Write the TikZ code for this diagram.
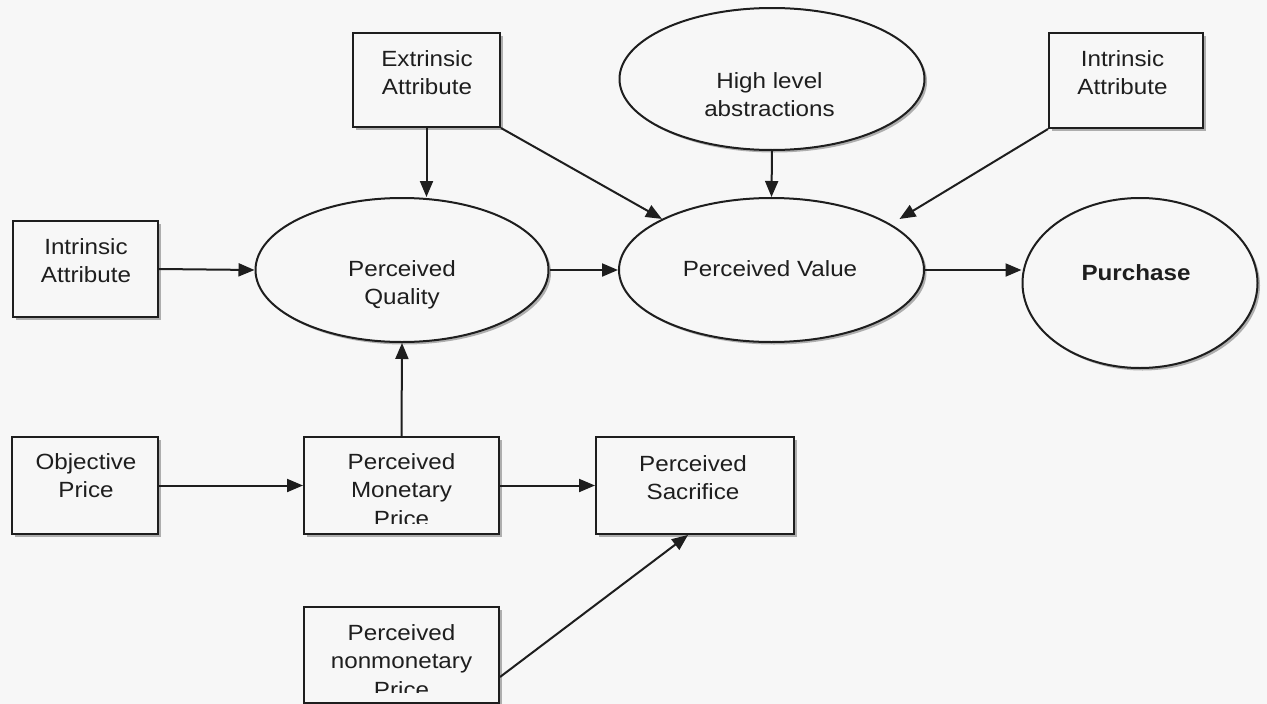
\documentclass[tikz,border=0pt]{standalone}
\usepackage{fontspec}
\setmainfont{Liberation Sans}[FakeStretch=1.1]
\usetikzlibrary{shapes.geometric,arrows.meta,shadows}
\definecolor{bg}{RGB}{247,247,247}
\definecolor{ink}{RGB}{30,30,30}
\newcommand{\lblfont}{\fontsize{22}{28.5}\selectfont}
\tikzset{
  dshadow/.style={drop shadow={shadow xshift=2.5pt,shadow yshift=-2.5pt,fill=black!55,opacity=.55}},
  boxnode/.style={draw=ink,line width=2pt,fill=bg,rectangle,inner sep=0pt,dshadow},
  ellnode/.style={draw=ink,line width=2pt,fill=bg,ellipse,inner sep=0pt,dshadow},
  txt/.style={anchor=north,align=center,inner sep=0pt,text=ink,font=\lblfont},
  arr/.style={draw=ink,line width=2pt,-{Triangle[length=16pt,width=13pt]}},
}
\begin{document}
\begin{tikzpicture}[x=1pt,y=-1pt]
\fill[bg] (0,0) rectangle (1267,704);
\useasboundingbox (0,0) rectangle (1267,704);

% nodes
\node[boxnode,minimum width=147pt,minimum height=94pt] (ext) at (426.5,80) {};
\node[ellnode,minimum width=305pt,minimum height=142pt] (hl) at (772,79) {};
\node[boxnode,minimum width=154pt,minimum height=95pt] (iat) at (1126,80.5) {};
\node[boxnode,minimum width=145pt,minimum height=96pt] (ial) at (85.5,269) {};
\node[ellnode,minimum width=293pt,minimum height=144pt] (pq) at (402,270) {};
\node[ellnode,minimum width=305pt,minimum height=144pt] (pv) at (771.5,270) {};
\node[ellnode,minimum width=235pt,minimum height=170pt] (pur) at (1140,283) {};
\node[boxnode,minimum width=146pt,minimum height=97pt] (op) at (85,485.5) {};
\node[boxnode,minimum width=195pt,minimum height=97pt] (pmp) at (401.5,485.5) {};
\node[boxnode,minimum width=198pt,minimum height=97pt] (sac) at (695,485.5) {};
\node[boxnode,minimum width=195pt,minimum height=96pt] (pnm) at (401.5,655) {};

% texts
\node[txt] (extT) at (427,50) {Extrinsic\\Attribute};
\node[txt] (hlT) at (769.5,72) {High level\\abstractions};
\node[txt] (iatT) at (1122.5,50) {Intrinsic\\Attribute};
\node[txt] (ialT) at (86,238) {Intrinsic\\Attribute};
\node[txt] (pqT) at (402,260) {Perceived\\Quality};
\node[txt] (pvT) at (770,260) {Perceived Value};
\node[txt,font=\lblfont\bfseries] (purT) at (1136,264) {Purchase};
\node[txt] (opT) at (86,453) {Objective\\Price};
\node[txt] (sacT) at (693,455) {Perceived\\Sacrifice};
\begin{scope}
  \clip (pmp.north west) rectangle ([yshift=12pt]pmp.south east);
  \node[txt] (pmpT) at (401.5,453) {Perceived\\Monetary\\Price};
\end{scope}
\begin{scope}
  \clip (pnm.north west) rectangle ([yshift=12pt]pnm.south east);
  \node[txt] (pnmT) at (401.5,624) {Perceived\\nonmonetary\\Price};
\end{scope}

% connectors
\draw[arr] (ext.south) -- (ext.south |- pq.north);
\draw[arr] (ext.south east) -- (pv.155.5);
\draw[arr] (hl.south) -- (pv.north);
\draw[arr,shorten >=10pt] (iat.south west) -- (pv.21.2);
\draw[arr] (ial.east) -- (pq.west);
\draw[arr] (pq.east) -- (pv.west);
\draw[arr] (pv.east) -- (pv.east -| pur.west);
\draw[arr] (op.east) -- (pmp.west);
\draw[arr] (pmp.north) -- (pq.south);
\draw[arr] (pmp.east) -- (sac.west);
\draw[arr] ([yshift=-22pt]pnm.east) -- ([xshift=-7pt]sac.south);
\end{tikzpicture}
\end{document}
